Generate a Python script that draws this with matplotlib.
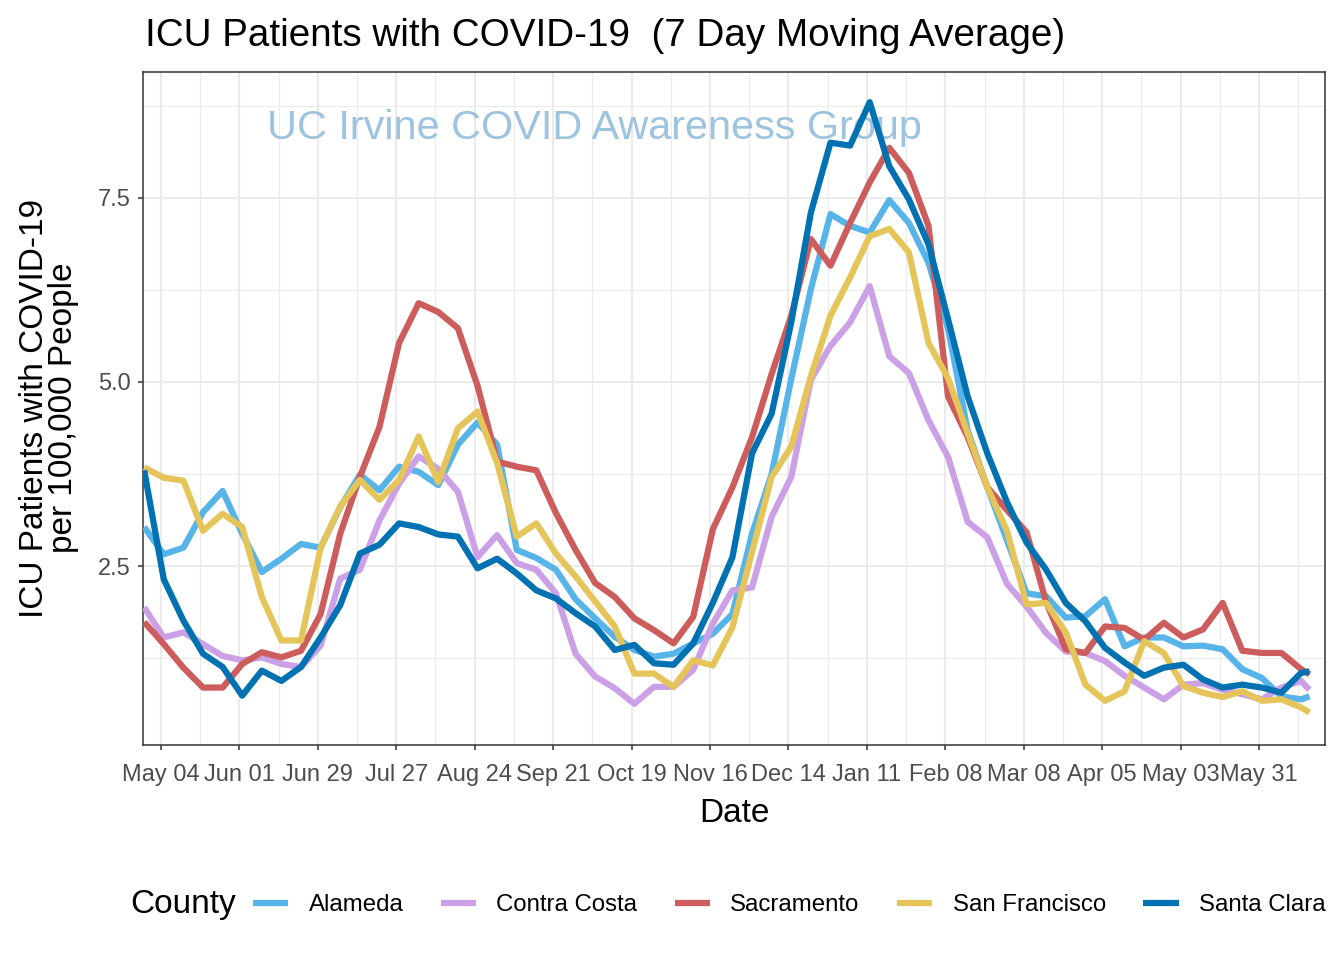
import matplotlib
matplotlib.use('Agg')
import matplotlib.pyplot as plt
import matplotlib.dates as mdates
from matplotlib.lines import Line2D
import pandas as pd

plt.rcParams['font.family'] = ['Liberation Sans', 'DejaVu Sans']

# ---------------- data (7-day moving average, ICU patients per 100k) -------------
week_start = '2020-04-28'
n_weeks = 60
last_day = '2021-06-18'
dates = list(pd.date_range(week_start, periods=n_weeks, freq='7D')) + [pd.Timestamp(last_day)]

counties = ['Alameda', 'Contra Costa', 'Sacramento', 'San Francisco', 'Santa Clara']
colors = ['#56B4E9', '#CBA0E6', '#CD5C5C', '#E5C55A', '#0072B2']

alameda = [3.03, 2.66, 2.75, 3.23, 3.52, 2.94, 2.42, 2.60, 2.80, 2.75,
           3.30, 3.74, 3.53, 3.85, 3.78, 3.60, 4.15, 4.45, 4.15, 2.72,
           2.61, 2.45, 2.05, 1.79, 1.54, 1.36, 1.27, 1.31, 1.45, 1.58,
           1.85, 2.94, 3.75, 5.04, 6.26, 7.28, 7.12, 7.03, 7.47, 7.16,
           6.62, 5.72, 4.34, 3.57, 2.85, 2.13, 2.09, 1.80, 1.82, 2.05,
           1.41, 1.53, 1.53, 1.41, 1.42, 1.37, 1.10, 0.98, 0.73, 0.69, 0.73]
contra_costa = [1.94, 1.53, 1.60, 1.44, 1.28, 1.22, 1.26, 1.17, 1.13, 1.42,
                2.33, 2.45, 3.12, 3.62, 3.99, 3.82, 3.51, 2.62, 2.92, 2.54,
                2.45, 2.13, 1.31, 1.00, 0.84, 0.63, 0.86, 0.86, 1.09, 1.72,
                2.17, 2.21, 3.17, 3.71, 5.03, 5.49, 5.81, 6.30, 5.35, 5.12,
                4.48, 3.98, 3.10, 2.89, 2.26, 1.95, 1.59, 1.34, 1.32, 1.21,
                1.01, 0.85, 0.69, 0.89, 0.91, 0.82, 0.76, 0.69, 0.85, 0.94, 0.82]
sacramento = [1.74, 1.44, 1.12, 0.85, 0.85, 1.17, 1.33, 1.26, 1.35, 1.85,
              2.94, 3.71, 4.39, 5.53, 6.07, 5.95, 5.73, 4.95, 3.92, 3.85,
              3.80, 3.22, 2.72, 2.27, 2.08, 1.79, 1.63, 1.45, 1.81, 3.00,
              3.57, 4.25, 5.11, 5.90, 6.94, 6.58, 7.16, 7.71, 8.18, 7.84,
              7.12, 4.80, 4.25, 3.57, 3.26, 2.96, 2.01, 1.37, 1.32, 1.68,
              1.66, 1.50, 1.73, 1.53, 1.64, 2.00, 1.35, 1.32, 1.32, 1.10, 1.03]
san_francisco = [3.84, 3.70, 3.66, 2.98, 3.21, 3.03, 2.08, 1.49, 1.49, 2.75,
                 3.31, 3.67, 3.40, 3.67, 4.26, 3.64, 4.37, 4.60, 3.90, 2.90,
                 3.08, 2.67, 2.36, 2.02, 1.68, 1.04, 1.04, 0.86, 1.22, 1.15,
                 1.67, 2.69, 3.71, 4.12, 5.08, 5.90, 6.42, 6.98, 7.08, 6.76,
                 5.53, 5.05, 4.30, 3.57, 2.98, 1.98, 2.00, 1.60, 0.89, 0.67,
                 0.80, 1.48, 1.32, 0.87, 0.78, 0.72, 0.80, 0.67, 0.69, 0.58, 0.51]
santa_clara = [3.80, 2.32, 1.76, 1.31, 1.13, 0.74, 1.08, 0.94, 1.13, 1.53,
               1.97, 2.67, 2.79, 3.08, 3.03, 2.93, 2.90, 2.47, 2.60, 2.40,
               2.17, 2.06, 1.86, 1.68, 1.36, 1.43, 1.18, 1.16, 1.45, 2.00,
               2.62, 4.03, 4.57, 5.81, 7.30, 8.25, 8.21, 8.80, 7.93, 7.48,
               6.87, 5.85, 4.80, 4.03, 3.37, 2.82, 2.45, 2.00, 1.75, 1.39,
               1.19, 1.01, 1.12, 1.16, 0.96, 0.85, 0.89, 0.85, 0.78, 1.05, 1.07]
series = [alameda, contra_costa, sacramento, san_francisco, santa_clara]

major_ticks = pd.date_range('2020-05-04', '2021-05-31', freq='28D')
minor_ticks = pd.date_range('2020-05-18', '2021-06-14', freq='28D')
y_major = [2.5, 5.0, 7.5]
y_minor = [1.25, 3.75, 6.25, 8.75]
x_limits = (pd.Timestamp('2020-04-27 14:00'), pd.Timestamp('2021-06-23 13:00'))
y_limits = (0.07, 9.21)

title = 'ICU Patients with COVID-19  (7 Day Moving Average)'
watermark = 'UC Irvine COVID Awareness Group'

# ---------------- figure ----------------
W, H = 1344, 960
fig = plt.figure(figsize=(W / 100, H / 100), dpi=100)
fig.patch.set_facecolor('white')
ax = fig.add_axes([143 / W, 1 - 745 / H, (1325 - 143) / W, (745 - 72) / H])

for vals, col, name in zip(series, colors, counties):
    ax.plot(dates, vals, color=col, lw=4.5, solid_joinstyle='round',
            solid_capstyle='butt', zorder=3, label=name)

ax.set_xlim(*x_limits)
ax.set_ylim(*y_limits)
ax.set_xticks(major_ticks)
ax.set_xticks(minor_ticks, minor=True)
ax.xaxis.set_major_formatter(mdates.DateFormatter('%b %d'))
ax.set_yticks(y_major)
ax.set_yticks(y_minor, minor=True)
ax.set_yticklabels([f'{v:.1f}' for v in y_major])

ax.grid(which='major', color='#EBEBEB', lw=1.5, zorder=0)
ax.grid(which='minor', color='#EBEBEB', lw=0.75, zorder=0)
ax.set_axisbelow(True)
ax.tick_params(which='major', length=3.6, width=1.1, color='#333333',
               labelsize=17, labelcolor='#4D4D4D', pad=5)
ax.tick_params(axis='x', which='major', pad=10)
ax.tick_params(which='minor', length=0)
for sp in ax.spines.values():
    sp.set_color('#333333')
    sp.set_linewidth(1.1)

ax.text(0.382, 0.917, watermark, transform=ax.transAxes, ha='center', va='center',
        fontsize=29.8, color='#9DC3DF', zorder=1)

ax.set_xlabel('Date', fontsize=24, labelpad=9)
fig.text(49 / W, 1 - 408 / H, 'ICU Patients with COVID-19\nper 100,000 People',
         rotation=90, ha='center', va='center', fontsize=24, linespacing=0.95,
         multialignment='center')
fig.text(145 / W, 1 - 46 / H, title, ha='left', va='baseline', fontsize=27.8)

handles = [Line2D([], [], color=c, lw=4.5, solid_capstyle='butt') for c in colors]
fig.text(130 / W, 1 - 905 / H, 'County', ha='left', va='center', fontsize=24)
fig.legend(handles, counties, loc='center left', bbox_to_anchor=(253 / W, 1 - 905 / H),
           ncol=5, frameon=False, handlelength=1.46, handletextpad=0.85,
           columnspacing=1.56, fontsize=17.3, borderpad=0, borderaxespad=0)

fig.savefig('out.png', dpi=100, facecolor='white')
